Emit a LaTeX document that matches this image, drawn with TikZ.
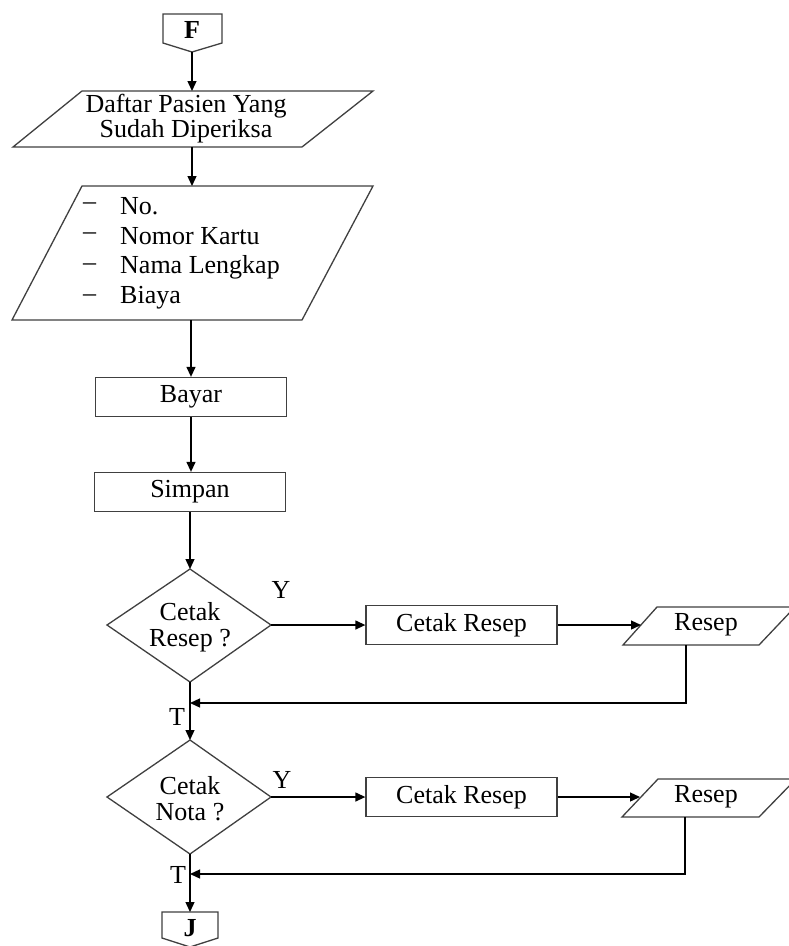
\documentclass[tikz,border=0pt]{standalone}
\usepackage{fontspec}
\setmainfont{Liberation Serif}
\usetikzlibrary{arrows.meta}
\begin{document}
\begin{tikzpicture}[x=1pt,y={(0pt,-1pt)},
  shp/.style={draw=black!75,line width=1.3pt,fill=white},
  arr/.style={draw=black,line width=1.3pt,-{Triangle[length=10pt,width=9pt]}},
  txt/.style={font=\fontsize{26}{26}\selectfont,inner sep=0pt,align=center},
  lbl/.style={font=\fontsize{26}{26}\selectfont,inner sep=0pt},
  boxx/.style={shp,minimum width=191pt,minimum height=39pt,inner sep=0pt,font=\fontsize{26}{26}\selectfont}]
\clip (0,0) rectangle (789,946);
\fill[white] (0,0) rectangle (789,946);

% F connector
\draw[shp] (163,14) -- (222,14) -- (222,43) -- (192,52) -- (163,43) -- cycle;
\node[txt,font=\fontsize{26}{26}\selectfont\bfseries] (F) at (192,30) {F};
\coordinate (Fb) at (192,52);

% Parallelogram 1
\draw[shp] (82,91) -- (373,91) -- (302,147) -- (13,147) -- cycle;
\node[lbl] (p1a) at (186,106) {Daftar Pasien Yang};
\node[lbl] (p1b) at (186,131) {Sudah Diperiksa};
\coordinate (P1t) at (192,91);
\coordinate (P1b) at (192,147);

% Parallelogram 2
\draw[shp] (82,186) -- (373,186) -- (302,320) -- (12,320) -- cycle;
\coordinate (P2t) at (192,186);
\coordinate (P2b) at (191,320);
\foreach \t/\yy/\nm in {No./206/l1, Nomor Kartu/236/l2, Nama Lengkap/267/l3, Biaya/298/l4}{
  \node[lbl,anchor=west] (\nm d) at (83,\yy) {--};
  \node[lbl,anchor=west] (\nm) at (120,\yy) {\t};
}

% Bayar & Simpan
\node[boxx] (bayar) at (191,397) {Bayar};
\node[boxx] (simpan) at (190,492) {Simpan};

% Diamond 1
\draw[shp] (190,569) -- (271,625) -- (190,682) -- (107,625) -- cycle;
\coordinate (D1t) at (190,569);
\coordinate (D1r) at (271,625);
\coordinate (D1b) at (190,682);
\node[lbl] (d1a) at (190,612) {Cetak};
\node[lbl] (d1b) at (190,641) {Resep ?};
\node[lbl] (y1) at (281,590) {Y};

\node[boxx] (cr1) at (461.5,625) {Cetak Resep};
\draw[shp] (657,607) -- (795,607) -- (759,645) -- (623,645) -- cycle;
\node[lbl] (rs1) at (706,625) {Resep};
\coordinate (R1l) at (641,625);
\coordinate (R1b) at (686,645);
\coordinate (M1) at (190,703);
\node[lbl] (t1) at (177,717) {T};

% Diamond 2
\draw[shp] (190,740) -- (271,797) -- (190,854) -- (107,797) -- cycle;
\coordinate (D2t) at (190,740);
\coordinate (D2r) at (271,797);
\coordinate (D2b) at (190,854);
\node[lbl] (d2a) at (190,786) {Cetak};
\node[lbl] (d2b) at (190,812) {Nota ?};
\node[lbl] (y2) at (282,780) {Y};

\node[boxx] (cr2) at (461.5,797) {Cetak Resep};
\draw[shp] (658,779) -- (796,779) -- (759,817) -- (622,817) -- cycle;
\node[lbl] (rs2) at (706,797) {Resep};
\coordinate (R2l) at (640,797);
\coordinate (R2b) at (685,817);
\coordinate (M2) at (190,874);
\node[lbl] (t2) at (178,875) {T};

% J connector
\draw[shp] (162,912) -- (218,912) -- (218,938) -- (190,947) -- (162,938) -- cycle;
\node[txt,font=\fontsize{26}{26}\selectfont\bfseries] (J) at (190,928) {J};
\coordinate (Jt) at (190,912);

% connectors
\draw[arr] (Fb) -- (P1t);
\draw[arr] (P1b) -- (P2t);
\draw[arr] (P2b) -- (bayar.north);
\draw[arr] (bayar.south) -- (bayar.south |- simpan.north);
\draw[arr] (simpan.south) -- (D1t);
\draw[arr] (D1r) -- (cr1.west);
\draw[arr] (cr1.east) -- (R1l);
\draw[arr] (R1b) |- (M1);
\draw[arr] (D1b) -- (D2t);
\draw[arr] (D2r) -- (cr2.west);
\draw[arr] (cr2.east) -- (R2l);
\draw[arr] (R2b) |- (M2);
\draw[arr] (D2b) -- (Jt);
\end{tikzpicture}
\end{document}
